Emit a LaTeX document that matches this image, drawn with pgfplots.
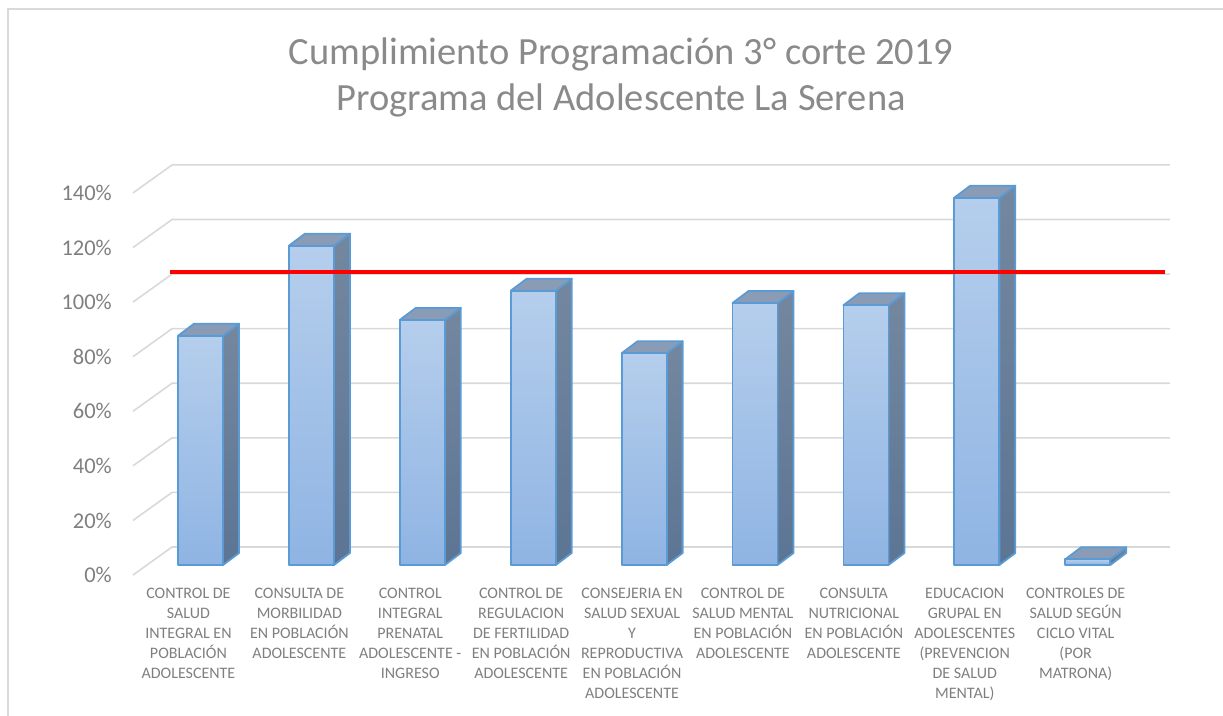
\documentclass[border=0pt]{standalone}
\usepackage{pgfplots}
\usepackage{pgfplotstable}
\pgfplotsset{compat=1.18}
\usepackage{fontspec}
\setmainfont{Carlito}
\definecolor{gridc}{HTML}{D9D9D9}
\definecolor{txt}{HTML}{7F7F7F}
\definecolor{titc}{HTML}{8A8A8A}
\definecolor{bord}{HTML}{5B9BD5}
\definecolor{fronttop}{HTML}{B5CEEC}
\definecolor{frontbot}{HTML}{8FB4E3}
\definecolor{sidetop}{HTML}{74879F}
\definecolor{sidebot}{HTML}{5C7594}
\definecolor{topf}{HTML}{8A9CB5}
\pgfplotstableread{
x v
1 84.0
2 117.0
3 89.8
4 100.5
5 77.6
6 96.0
7 95.2
8 134.6
9 2.1
}\bardata
\begin{document}
\begin{tikzpicture}
\path[use as bounding box] (-133pt,-140pt) rectangle (1090pt,575pt);
\draw[gridc, line width=1.5pt] (-125pt,-141pt) -- (-125pt,566pt) -- (1091pt,566pt);
\node[anchor=base, text=titc, font=\fontsize{38.5}{44}\selectfont, inner sep=0pt] at (488pt,510.7pt) {Cumplimiento Programación 3° corte 2019};
\node[anchor=base, text=titc, font=\fontsize{38.5}{44}\selectfont, inner sep=0pt] at (488pt,464pt) {Programa del Adolescente La Serena};
\begin{axis}[
  at={(0pt,0pt)}, anchor=south west,
  x=110.9pt, y=2.729pt,
  xmin=0.5, xmax=9.5, ymin=0, ymax=140,
  clip=false,
  axis line style={draw=none},
  major tick length=0pt,
  /pgf/number format/assume math mode=true,
  ytick={0,20,...,140},
  yticklabel={\pgfmathprintnumber{\tick}\%},
  yticklabel style={font=\fontsize{22.5}{26}\selectfont, text=txt, anchor=east, inner sep=0pt, xshift=-21pt},
  xtick={1,...,9},
  xticklabels={
    {CONTROL DE\\SALUD\\INTEGRAL EN\\POBLACIÓN\\ADOLESCENTE},
    {CONSULTA DE\\MORBILIDAD\\EN POBLACIÓN\\ADOLESCENTE},
    {CONTROL\\INTEGRAL\\PRENATAL\\ADOLESCENTE -\\INGRESO},
    {CONTROL DE\\REGULACION\\DE FERTILIDAD\\EN POBLACIÓN\\ADOLESCENTE},
    {CONSEJERIA EN\\SALUD SEXUAL\\Y\\REPRODUCTIVA\\EN POBLACIÓN\\ADOLESCENTE},
    {CONTROL DE\\SALUD MENTAL\\EN POBLACIÓN\\ADOLESCENTE},
    {CONSULTA\\NUTRICIONAL\\EN POBLACIÓN\\ADOLESCENTE},
    {EDUCACION\\GRUPAL EN\\ADOLESCENTES\\(PREVENCION\\DE SALUD\\MENTAL)},
    {CONTROLES DE\\SALUD SEGÚN\\CICLO VITAL\\(POR\\MATRONA)}
  },
  xticklabel style={font=\fontsize{16}{20}\selectfont, text=txt, align=center, anchor=north, inner sep=0pt, yshift=-13pt},
]
% back wall gridlines and left wall diagonals
\pgfplotsforeachungrouped \gv in {0,20,...,140}{
  \pgfmathsetmacro\gvb{\gv+10.26}
  \edef\temp{\noexpand\addplot[gridc, line width=1.6pt, mark=none] coordinates {(0.5,\gv) (0.852,\gvb) (9.852,\gvb)};}
  \temp
}
% 3D bars
\pgfplotsforeachungrouped \ii in {0,...,8}{
  \pgfplotstablegetelem{\ii}{x}\of\bardata \let\cx\pgfplotsretval
  \pgfplotstablegetelem{\ii}{v}\of\bardata \let\cv\pgfplotsretval
  \pgfmathsetmacro\L{\cx+0.109-0.203}
  \pgfmathsetmacro\R{\cx+0.109+0.203}
  \pgfmathsetmacro\Lb{\L+0.144}
  \pgfmathsetmacro\Rb{\R+0.144}
  \pgfmathsetmacro\B{3.66}
  \pgfmathsetmacro\T{3.66+\cv}
  \pgfmathsetmacro\Bb{\B+4.4}
  \pgfmathsetmacro\Tb{\T+4.4}
  \edef\temp{
    \noexpand\addplot[draw=bord, line width=1.8pt, line join=round, top color=sidetop, bottom color=sidebot, mark=none] coordinates {(\R,\B) (\Rb,\Bb) (\Rb,\Tb) (\R,\T)} -- cycle;
    \noexpand\addplot[draw=bord, line width=1.8pt, line join=round, fill=topf, mark=none] coordinates {(\L,\T) (\Lb,\Tb) (\Rb,\Tb) (\R,\T)} -- cycle;
    \noexpand\addplot[draw=bord, line width=1.8pt, line join=round, top color=fronttop, bottom color=frontbot, mark=none] coordinates {(\L,\B) (\R,\B) (\R,\T) (\L,\T)} -- cycle;
  }
  \temp
}
% red reference line
\addplot[red, line width=4.5pt, mark=none] coordinates {(0.834,111.0) (9.806,111.0)};
\end{axis}
\end{tikzpicture}
\end{document}
